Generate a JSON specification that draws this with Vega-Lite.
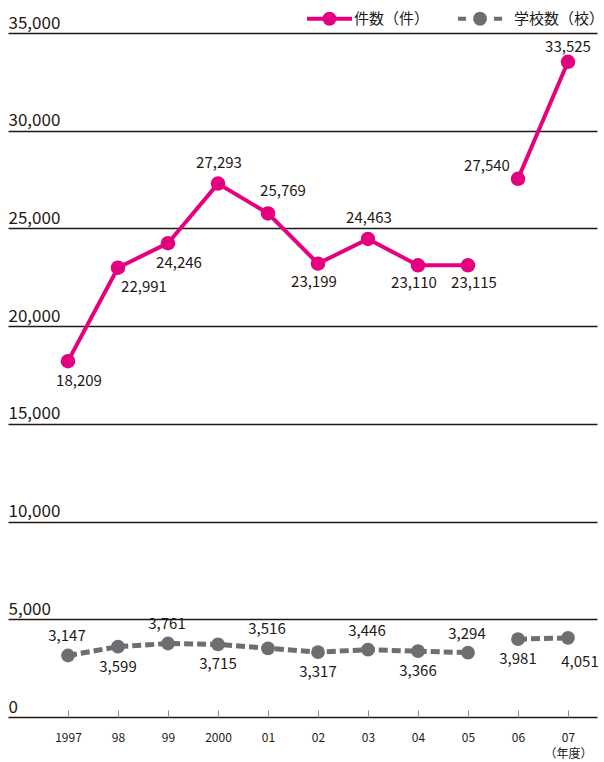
{
  "$schema": "https://vega.github.io/schema/vega-lite/v6.json",
  "width": 589,
  "height": 684,
  "autosize": {"type": "none"},
  "padding": {"left": 8, "top": 33, "right": 7, "bottom": 45},
  "background": "white",
  "config": {"view": {"stroke": null}, "font": "Noto Sans CJK JP"},
  "data": {
    "values": [
      {"year": 1997, "series": "件数（件）", "value": 18209, "period": 1},
      {"year": 1998, "series": "件数（件）", "value": 22991, "period": 1},
      {"year": 1999, "series": "件数（件）", "value": 24246, "period": 1},
      {"year": 2000, "series": "件数（件）", "value": 27293, "period": 1},
      {"year": 2001, "series": "件数（件）", "value": 25769, "period": 1},
      {"year": 2002, "series": "件数（件）", "value": 23199, "period": 1},
      {"year": 2003, "series": "件数（件）", "value": 24463, "period": 1},
      {"year": 2004, "series": "件数（件）", "value": 23110, "period": 1},
      {"year": 2005, "series": "件数（件）", "value": 23115, "period": 1},
      {"year": 2006, "series": "件数（件）", "value": 27540, "period": 2},
      {"year": 2007, "series": "件数（件）", "value": 33525, "period": 2},
      {"year": 1997, "series": "学校数（校）", "value": 3147, "period": 1},
      {"year": 1998, "series": "学校数（校）", "value": 3599, "period": 1},
      {"year": 1999, "series": "学校数（校）", "value": 3761, "period": 1},
      {"year": 2000, "series": "学校数（校）", "value": 3715, "period": 1},
      {"year": 2001, "series": "学校数（校）", "value": 3516, "period": 1},
      {"year": 2002, "series": "学校数（校）", "value": 3317, "period": 1},
      {"year": 2003, "series": "学校数（校）", "value": 3446, "period": 1},
      {"year": 2004, "series": "学校数（校）", "value": 3366, "period": 1},
      {"year": 2005, "series": "学校数（校）", "value": 3294, "period": 1},
      {"year": 2006, "series": "学校数（校）", "value": 3981, "period": 2},
      {"year": 2007, "series": "学校数（校）", "value": 4051, "period": 2}
    ]
  },
  "encoding": {
    "x": {
      "field": "year",
      "type": "quantitative",
      "scale": {"domain": [1995.8, 2007.58], "nice": false, "zero": false},
      "axis": {
        "title": null,
        "values": [1997, 1998, 1999, 2000, 2001, 2002, 2003, 2004, 2005, 2006, 2007],
        "domain": false,
        "grid": false,
        "ticks": true,
        "tickSize": -7,
        "tickColor": "#8a8a8a",
        "tickWidth": 1,
        "labelPadding": 22,
        "labelFontSize": 12,
        "labelColor": "#231815",
        "labelFlush": false,
        "labelOverlap": false,
        "labelBound": false,
        "labelBaseline": "top",
        "labelLineHeight": 16,
        "labelExpr": "datum.value === 1997 || datum.value === 2000 ? toString(datum.value) : datum.value === 2007 ? ['07', '（年度）'] : slice(toString(datum.value), 2)"
      }
    },
    "y": {
      "field": "value",
      "type": "quantitative",
      "scale": {"domain": [0, 35000], "nice": false},
      "axis": {
        "title": null,
        "values": [0, 5000, 10000, 15000, 20000, 25000, 30000, 35000],
        "domain": false,
        "ticks": false,
        "grid": true,
        "gridColor": "#231815",
        "gridWidth": 1.5,
        "labelAlign": "left",
        "labelBaseline": "alphabetic",
        "labelPadding": 0,
        "labelOffset": -5,
        "labelFontSize": 17,
        "labelColor": "#231815",
        "labelFlush": false,
        "labelOverlap": false,
        "labelBound": false,
        "labelExpr": "format(datum.value, ',')"
      }
    }
  },
  "layer": [
    {
      "transform": [{"filter": "datum.series === '件数（件）'"}],
      "mark": {"type": "line", "strokeWidth": 4},
      "encoding": {
        "color": {
          "field": "series",
          "type": "nominal",
          "scale": {"domain": ["件数（件）", "学校数（校）"], "range": ["#e4007f", "#6d6e71"]},
          "legend": {
            "title": null,
            "orient": "none",
            "legendX": 297,
            "legendY": -39,
            "direction": "horizontal",
            "symbolType": "M-1,0H1M-0.22,0A0.22,0.22 0 1,0 0.22,0A0.22,0.22 0 1,0 -0.22,0Z",
            "symbolSize": 2025,
            "symbolStrokeWidth": 4,
            "labelFontSize": 15,
            "labelColor": "#231815",
            "labelOffset": 0,
            "labelLimit": 200,
            "columnPadding": 20,
            "encode": {
              "symbols": {
                "update": {
                  "shape": {"signal": "datum.value === '学校数（校）' ? 'M-1.4,0H-1.04M0.2,0H0.56M-0.64,0A0.22,0.22 0 1,0 -0.2,0A0.22,0.22 0 1,0 -0.64,0Z' : 'M-1,0H1M-0.22,0A0.22,0.22 0 1,0 0.22,0A0.22,0.22 0 1,0 -0.22,0Z'"},
                  "fill": {"scale": "color", "field": "value"},
                  "stroke": {"scale": "color", "field": "value"},
                  "strokeWidth": {"value": 4},
                  "opacity": {"value": 1},
                  "fillOpacity": {"value": 1}
                }
              }
            }
          }
        },
        "detail": {"field": "period"}
      }
    },
    {
      "transform": [{"filter": "datum.series === '学校数（校）'"}],
      "mark": {"type": "line", "strokeWidth": 5, "strokeDash": [9, 4]},
      "encoding": {
        "color": {"field": "series", "type": "nominal"},
        "detail": {"field": "period"}
      }
    },
    {
      "transform": [{"filter": "datum.series === '件数（件）'"}],
      "mark": {"type": "point", "filled": true, "size": 210, "opacity": 1},
      "encoding": {"color": {"field": "series", "type": "nominal"}}
    },
    {
      "transform": [{"filter": "datum.series === '学校数（校）'"}],
      "mark": {"type": "point", "filled": true, "size": 190, "opacity": 1},
      "encoding": {"color": {"field": "series", "type": "nominal"}}
    },
    {
      "transform": [{"filter": "datum.series === '件数（件）' && indexof([1997, 1999], datum.year) >= 0"}],
      "mark": {"type": "text", "fontSize": 15, "fill": "#231815", "dx": 11, "dy": 20},
      "encoding": {"text": {"field": "value", "type": "quantitative", "format": ","}}
    },
    {
      "transform": [{"filter": "datum.series === '件数（件）' && datum.year === 1998"}],
      "mark": {"type": "text", "fontSize": 15, "fill": "#231815", "dx": 26, "dy": 19},
      "encoding": {"text": {"field": "value", "type": "quantitative", "format": ","}}
    },
    {
      "transform": [{"filter": "datum.series === '件数（件）' && indexof([2002, 2004], datum.year) >= 0"}],
      "mark": {"type": "text", "fontSize": 15, "fill": "#231815", "dx": -4, "dy": 18},
      "encoding": {"text": {"field": "value", "type": "quantitative", "format": ","}}
    },
    {
      "transform": [{"filter": "datum.series === '件数（件）' && datum.year === 2005"}],
      "mark": {"type": "text", "fontSize": 15, "fill": "#231815", "dx": 6, "dy": 18},
      "encoding": {"text": {"field": "value", "type": "quantitative", "format": ","}}
    },
    {
      "transform": [{"filter": "datum.series === '件数（件）' && indexof([2000, 2003], datum.year) >= 0"}],
      "mark": {"type": "text", "fontSize": 15, "fill": "#231815", "dx": 1, "dy": -21},
      "encoding": {"text": {"field": "value", "type": "quantitative", "format": ","}}
    },
    {
      "transform": [{"filter": "datum.series === '件数（件）' && datum.year === 2001"}],
      "mark": {"type": "text", "fontSize": 15, "fill": "#231815", "dx": 15, "dy": -22},
      "encoding": {"text": {"field": "value", "type": "quantitative", "format": ","}}
    },
    {
      "transform": [{"filter": "datum.series === '件数（件）' && datum.year === 2006"}],
      "mark": {"type": "text", "fontSize": 15, "fill": "#231815", "dx": -31, "dy": -13},
      "encoding": {"text": {"field": "value", "type": "quantitative", "format": ","}}
    },
    {
      "transform": [{"filter": "datum.series === '件数（件）' && datum.year === 2007"}],
      "mark": {"type": "text", "fontSize": 15, "fill": "#231815", "dx": 0, "dy": -15},
      "encoding": {"text": {"field": "value", "type": "quantitative", "format": ","}}
    },
    {
      "transform": [{"filter": "datum.series === '学校数（校）' && indexof([1997, 1999, 2001, 2003, 2005], datum.year) >= 0"}],
      "mark": {"type": "text", "fontSize": 15, "fill": "#231815", "dx": -1, "dy": -19},
      "encoding": {"text": {"field": "value", "type": "quantitative", "format": ","}}
    },
    {
      "transform": [{"filter": "datum.series === '学校数（校）' && indexof([1998, 2000, 2002, 2004, 2006], datum.year) >= 0"}],
      "mark": {"type": "text", "fontSize": 15, "fill": "#231815", "dx": 0, "dy": 20},
      "encoding": {"text": {"field": "value", "type": "quantitative", "format": ","}}
    },
    {
      "transform": [{"filter": "datum.series === '学校数（校）' && datum.year === 2007"}],
      "mark": {"type": "text", "fontSize": 15, "fill": "#231815", "dx": 12, "dy": 24},
      "encoding": {"text": {"field": "value", "type": "quantitative", "format": ","}}
    }
  ]
}
